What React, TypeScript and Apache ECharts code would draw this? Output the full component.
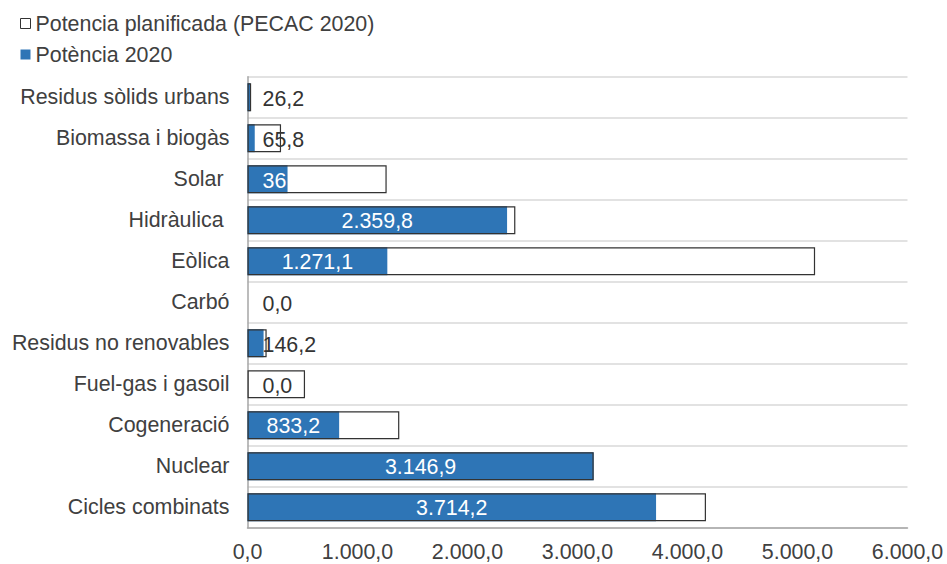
import React, { useEffect, useRef } from "react";
import * as echarts from "echarts";

const categories = [
  "Residus sòlids urbans",
  "Biomassa i biogàs",
  "Solar ",
  "Hidràulica ",
  "Eòlica",
  "Carbó",
  "Residus no renovables",
  "Fuel-gas i gasoil",
  "Cogeneració",
  "Nuclear",
  "Cicles combinats",
];
const potencia2020 = [26.2, 65.8, 364, 2359.8, 1271.1, 0, 146.2, 0, 833.2, 3146.9, 3714.2];
const potenciaLabels = ["26,2", "65,8", "36", "2.359,8", "1.271,1", "0,0", "146,2", "0,0", "833,2", "3.146,9", "3.714,2"];
const potenciaPlanificada = [33, 305, 1265, 2435, 5160, 0, 174, 523, 1380, 3146.9, 4168];
const xTicks = [0, 1000, 2000, 3000, 4000, 5000, 6000];

const SERIES_PLAN = "Potencia planificada (PECAC 2020)";
const SERIES_REAL = "Potència 2020";
const FONT = '"Liberation Sans", Arial, sans-serif';
const TEXT = "#404040";
const BLUE = "#2E75B6";
const FS = 21.4;

function fmt(v: number): string {
  const fixed = v.toFixed(1);
  const [intPart, dec] = fixed.split(".");
  const withDots = intPart.replace(/\B(?=(\d{3})+(?!\d))/g, ".");
  return withDots + "," + dec;
}

export default function App() {
  const ref = useRef<HTMLDivElement>(null);
  useEffect(() => {
    if (!ref.current) return;
    const chart = echarts.init(ref.current, undefined, { renderer: "svg" });
    const realData = potencia2020.map((v, i) => {
      const small = v < 400;
      return {
        value: v,
        label: {
          show: true,
          formatter: potenciaLabels[i],
          position: small ? "insideLeft" : "inside",
          offset: small ? [10, 2] : [0, 1],
          color: v > 300 ? "#ffffff" : "#333333",
        },
      };
    });
    const planData = potenciaPlanificada.map((v) => ({
      value: v,
      itemStyle: v === 0 ? { borderWidth: 0 } : undefined,
    }));
    chart.setOption({
      animation: false,
      textStyle: { fontFamily: FONT },
      legend: {
        orient: "vertical",
        left: 20,
        top: 13,
        padding: 0,
        icon: "rect",
        itemWidth: 10,
        itemHeight: 10,
        itemGap: 10,
        textStyle: { fontSize: FS, color: TEXT, fontFamily: FONT, lineHeight: 21 },
        data: [
          { name: SERIES_PLAN, itemStyle: { color: "#ffffff", borderColor: "#333333", borderWidth: 1 } },
          { name: SERIES_REAL, itemStyle: { color: BLUE, borderWidth: 0 } },
        ],
      },
      grid: { left: 247.5, right: 39.5, top: 76.7, bottom: 36.3, containLabel: false },
      xAxis: {
        type: "value",
        min: xTicks[0],
        max: xTicks[xTicks.length - 1],
        interval: 1000,
        axisLine: { show: true, lineStyle: { color: "#a6a6a6", width: 1.5 } },
        axisTick: { show: false },
        splitLine: { show: false },
        axisLabel: {
          fontSize: FS,
          color: TEXT,
          fontFamily: FONT,
          margin: 14,
          formatter: (v: number) => fmt(v),
        },
      },
      yAxis: {
        type: "category",
        inverse: true,
        data: categories,
        axisLine: { show: true, lineStyle: { color: "#a6a6a6", width: 1.5 } },
        axisTick: { show: false },
        splitLine: { show: true, lineStyle: { color: "#d9d9d9", width: 1.5 } },
        axisLabel: { fontSize: FS, color: TEXT, fontFamily: FONT, margin: 18, padding: [3, 0, 0, 0] },
      },
      series: [
        {
          name: SERIES_REAL,
          type: "bar",
          data: realData,
          barWidth: 28,
          barGap: "-100%",
          itemStyle: { color: BLUE },
          label: { fontSize: FS, fontFamily: FONT },
          z: 2,
        },
        {
          name: SERIES_PLAN,
          type: "bar",
          data: planData,
          barWidth: 28,
          barGap: "-100%",
          itemStyle: { color: "rgba(255,255,255,0)", borderColor: "#333333", borderWidth: 1.2 },
          z: 3,
        },
      ],
    });
    return () => chart.dispose();
  }, []);
  return <div ref={ref} style={{ width: 947, height: 564, position: "absolute", left: 0, top: 0 }} />;
}
